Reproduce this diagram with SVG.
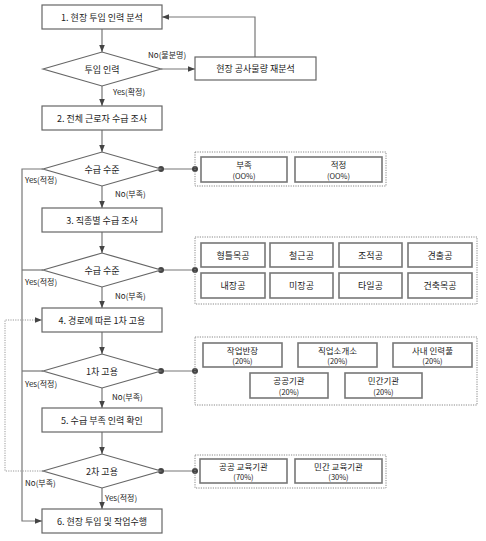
<svg xmlns="http://www.w3.org/2000/svg" width="486" height="541" viewBox="0 0 486 541">
<style>
text{font-family:"Noto Sans CJK KR","Noto Sans",sans-serif;font-size:9px;fill:#222;text-anchor:middle;dominant-baseline:central}
.lab{font-size:8px;text-anchor:start}
.t1{font-size:8.5px}
.t2{font-size:7.5px}
.box{fill:#fff;stroke:#666;stroke-width:1.2}
.ibox{fill:#fff;stroke:#777;stroke-width:1.6}
.grp{fill:none;stroke:#888;stroke-width:1;stroke-dasharray:1.2 1.2}
.ln{fill:none;stroke:#777;stroke-width:1.2}
.dl{fill:none;stroke:#999;stroke-width:1;stroke-dasharray:1.2 1.2}
.arr{marker-end:url(#ah)}
.pt{fill:#444}
</style>
<defs>
<marker id="ah" viewBox="0 0 10 10" refX="10" refY="5" markerWidth="7" markerHeight="7" orient="auto" markerUnits="userSpaceOnUse"><path d="M0,1 L10,5 L0,9 z" fill="#444"/></marker>
</defs>
<rect width="486" height="541" fill="#fff"/>
<g id="connectors">
<path class="ln arr" d="M102,29 V52"/>
<path class="ln arr" d="M161,69 H195"/>
<path class="ln arr" d="M255,57 V17 H162"/>
<path class="ln arr" d="M102,86 V106"/>
<path class="ln arr" d="M102,130 V152"/>
<path class="ln arr" d="M102,186 V208"/>
<path class="ln arr" d="M102,232 V253"/>
<path class="ln arr" d="M102,287 V308"/>
<path class="ln arr" d="M102,332 V354"/>
<path class="ln arr" d="M102,388 V408"/>
<path class="ln arr" d="M102,432 V454"/>
<path class="ln arr" d="M102,488 V509"/>
<path class="ln arr" d="M43,169 H22 V521 H42"/>
<path class="ln" d="M43,270 H22"/>
<path class="ln" d="M43,371 H22"/>
<path class="dl arr" d="M43,471 H5 V320 H42"/>
<path class="ln" d="M161,169 H195"/>
<path class="ln" d="M161,270 H195"/>
<path class="ln" d="M161,371 H195"/>
<path class="ln" d="M161,471 H195"/>
<circle class="pt" cx="161" cy="169" r="3"/><circle class="pt" cx="195" cy="169" r="3"/>
<circle class="pt" cx="161" cy="270" r="3"/><circle class="pt" cx="195" cy="270" r="3"/>
<circle class="pt" cx="161" cy="371" r="3"/><circle class="pt" cx="195" cy="371" r="3"/>
<circle class="pt" cx="161" cy="471" r="3"/><circle class="pt" cx="195" cy="471" r="3"/>
<text class="lab" x="148" y="54">No(불분명)</text>
<text class="lab" x="113" y="91">Yes(확정)</text>
<text class="lab" x="25" y="179">Yes(적정)</text>
<text class="lab" x="115" y="193">No(부족)</text>
<text class="lab" x="25" y="281">Yes(적정)</text>
<text class="lab" x="115" y="295">No(부족)</text>
<text class="lab" x="25" y="383">Yes(적정)</text>
<text class="lab" x="112" y="396">No(부족)</text>
<text class="lab" x="25" y="482">No(부족)</text>
<text class="lab" x="105" y="497">Yes(적정)</text>
</g>
<g id="n1"><rect class="box" x="42" y="5" width="120" height="24"/><text x="102" y="17">1. 현장 투입 인력 분석</text></g>
<g id="d1"><path class="box" d="M43,69 L102,52 L161,69 L102,86 Z"/><text x="102" y="69">투입 인력</text></g>
<g id="n1b"><rect class="box" x="195" y="57" width="121" height="23"/><text x="255.5" y="68.5">현장 공사물량 재분석</text></g>
<g id="n2"><rect class="box" x="42" y="106" width="120" height="24"/><text x="102" y="118">2. 전체 근로자 수급 조사</text></g>
<g id="d2"><path class="box" d="M43,169 L102,152 L161,169 L102,186 Z"/><text x="102" y="169">수급 수준</text></g>
<g id="n3"><rect class="box" x="42" y="208" width="120" height="24"/><text x="102" y="220">3. 직종별 수급 조사</text></g>
<g id="d3"><path class="box" d="M43,270 L102,253 L161,270 L102,287 Z"/><text x="102" y="270">수급 수준</text></g>
<g id="n4"><rect class="box" x="42" y="308" width="120" height="24"/><text x="102" y="320">4. 경로에 따른 1차 고용</text></g>
<g id="d4"><path class="box" d="M43,371 L102,354 L161,371 L102,388 Z"/><text x="102" y="371">1차 고용</text></g>
<g id="n5"><rect class="box" x="42" y="408" width="120" height="24"/><text x="102" y="420">5. 수급 부족 인력 확인</text></g>
<g id="d5"><path class="box" d="M43,471 L102,454 L161,471 L102,488 Z"/><text x="102" y="471">2차 고용</text></g>
<g id="n6"><rect class="box" x="42" y="509" width="120" height="24"/><text x="102" y="521">6. 현장 투입 및 작업수행</text></g>
<g id="g1">
<rect class="grp" x="195" y="152" width="191" height="34"/>
<rect class="ibox" x="201" y="157" width="86" height="25"/><text class="t1" x="244" y="164">부족</text><text class="t2" x="244" y="175">(OO%)</text>
<rect class="ibox" x="295" y="157" width="87" height="25"/><text class="t1" x="338.5" y="164">적정</text><text class="t2" x="338.5" y="175">(OO%)</text>
</g>
<g id="g2">
<rect class="grp" x="195" y="237" width="282" height="67"/>
<rect class="ibox" x="201" y="243" width="64" height="24"/><text x="233" y="255">형틀목공</text>
<rect class="ibox" x="270" y="243" width="63" height="24"/><text x="301.5" y="255">철근공</text>
<rect class="ibox" x="339" y="243" width="63" height="24"/><text x="370.5" y="255">조적공</text>
<rect class="ibox" x="408" y="243" width="64" height="24"/><text x="440" y="255">견출공</text>
<rect class="ibox" x="201" y="273" width="64" height="25"/><text x="233" y="285.5">내장공</text>
<rect class="ibox" x="270" y="273" width="63" height="25"/><text x="301.5" y="285.5">미장공</text>
<rect class="ibox" x="339" y="273" width="63" height="25"/><text x="370.5" y="285.5">타일공</text>
<rect class="ibox" x="408" y="273" width="64" height="25"/><text x="440" y="285.5">건축목공</text>
</g>
<g id="g3">
<rect class="grp" x="195" y="337" width="282" height="68"/>
<rect class="ibox" x="203" y="343" width="79" height="24"/><text class="t1" x="242.5" y="349.5">작업반장</text><text class="t2" x="242.5" y="360.5">(20%)</text>
<rect class="ibox" x="298" y="343" width="79" height="24"/><text class="t1" x="337.5" y="349.5">직업소개소</text><text class="t2" x="337.5" y="360.5">(20%)</text>
<rect class="ibox" x="393" y="343" width="79" height="24"/><text class="t1" x="432.5" y="349.5">사내 인력풀</text><text class="t2" x="432.5" y="360.5">(20%)</text>
<rect class="ibox" x="250" y="373" width="78" height="25"/><text class="t1" x="289" y="380">공공기관</text><text class="t2" x="289" y="391">(20%)</text>
<rect class="ibox" x="345" y="373" width="77" height="25"/><text class="t1" x="383.5" y="380">민간기관</text><text class="t2" x="383.5" y="391">(20%)</text>
</g>
<g id="g4">
<rect class="grp" x="195" y="455" width="191" height="33"/>
<rect class="ibox" x="200" y="459" width="87" height="24"/><text class="t1" x="243.5" y="465.5">공공 교육기관</text><text class="t2" x="243.5" y="476.5">(70%)</text>
<rect class="ibox" x="295" y="459" width="87" height="24"/><text class="t1" x="338.5" y="465.5">민간 교육기관</text><text class="t2" x="338.5" y="476.5">(30%)</text>
</g>
</svg>
